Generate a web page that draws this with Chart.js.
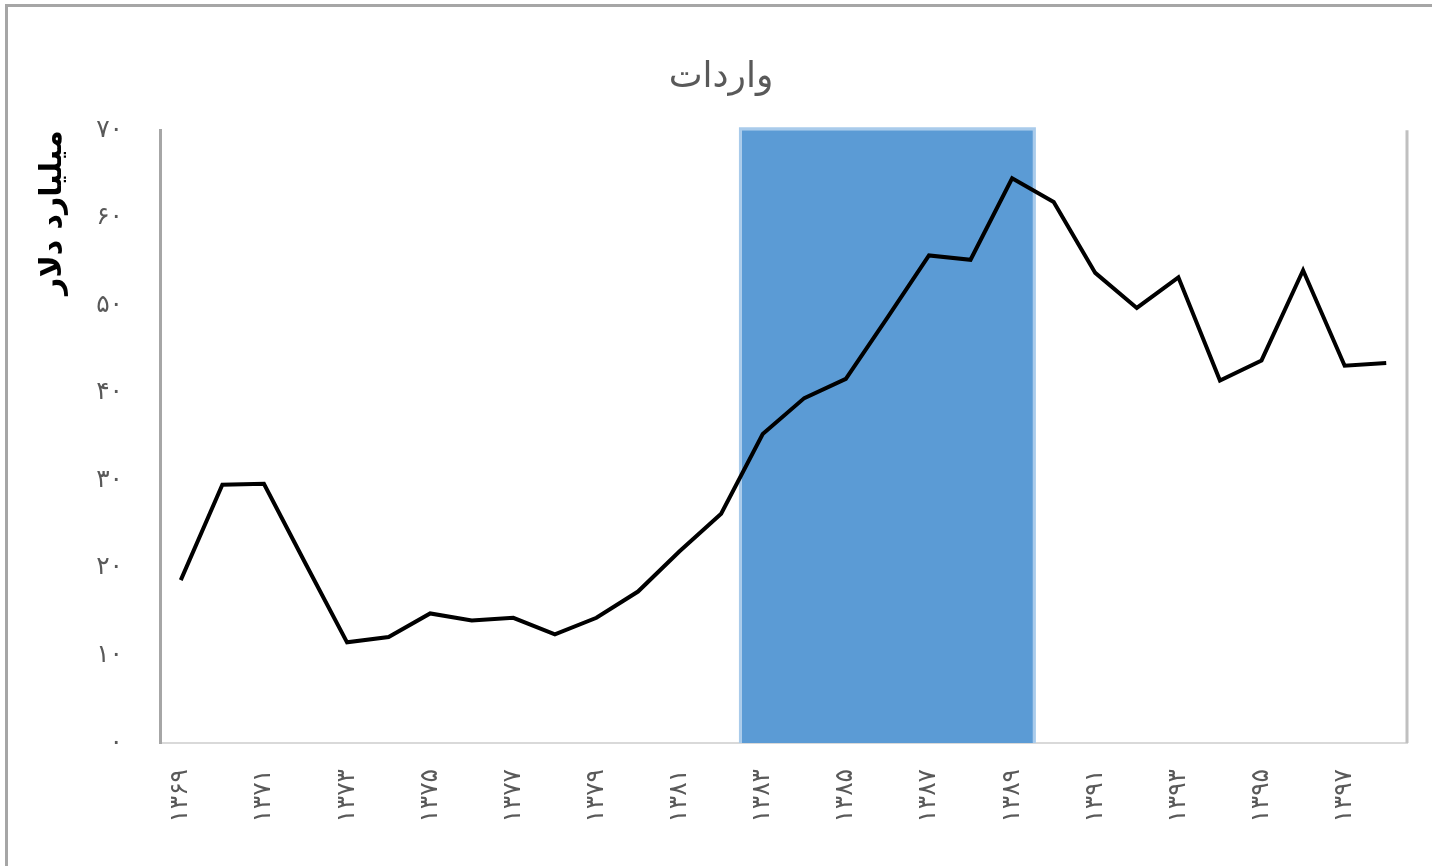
<!DOCTYPE html>
<html><head><meta charset="utf-8">
<script src="https://cdn.jsdelivr.net/npm/chart.js@4.4.0/dist/chart.umd.min.js"></script>
<style>
html,body{margin:0;padding:0;background:#fff;}
#wrap{position:relative;width:1432px;height:866px;overflow:hidden;background:#fff;}
#frame{position:absolute;left:5px;top:4px;width:1600px;height:1000px;border-left:3px solid #a6a6a6;border-top:3px solid #a6a6a6;}
canvas{position:absolute;left:0;top:0;}
</style></head><body>
<div id="wrap"><div id="frame"></div><canvas id="c" width="1432" height="866"></canvas></div>
<script>
const years = ['۱۳۶۹','۱۳۷۰','۱۳۷۱','۱۳۷۲','۱۳۷۳','۱۳۷۴','۱۳۷۵','۱۳۷۶','۱۳۷۷','۱۳۷۸',
               '۱۳۷۹','۱۳۸۰','۱۳۸۱','۱۳۸۲','۱۳۸۳','۱۳۸۴','۱۳۸۵','۱۳۸۶','۱۳۸۷','۱۳۸۸',
               '۱۳۸۹','۱۳۹۰','۱۳۹۱','۱۳۹۲','۱۳۹۳','۱۳۹۴','۱۳۹۵','۱۳۹۶','۱۳۹۷','۱۳۹۸'];
const imports = [18.6, 29.5, 29.6, 20.5, 11.5, 12.1, 14.8, 14.0, 14.3, 12.4,
                 14.3, 17.3, 21.9, 26.2, 35.3, 39.4, 41.6, 48.6, 55.7, 55.2,
                 64.5, 61.8, 53.7, 49.7, 53.2, 41.4, 43.7, 54.0, 43.1, 43.4];
const shadedPeriod = ['۱۳۸۳', '۱۳۸۹'];
const yTickValues = [0, 10, 20, 30, 40, 50, 60, 70];
const chartTitle = 'واردات';
const yAxisTitle = 'میلیارد دلار';

const faDigits = '۰۱۲۳۴۵۶۷۸۹';
const toFa = v => String(v).replace(/\d/g, d => faDigits[d]);

const shadePlugin = {
  id: 'shade',
  beforeDatasetsDraw(chart) {
    const {ctx, scales: {x, y}, chartArea} = chart;
    const i0 = years.indexOf(shadedPeriod[0]);
    const i1 = years.indexOf(shadedPeriod[1]);
    const half = (x.getPixelForValue(1) - x.getPixelForValue(0)) / 2;
    const left = x.getPixelForValue(i0) - half;
    const right = x.getPixelForValue(i1) + half;
    const top = y.getPixelForValue(yTickValues[yTickValues.length - 1]);
    const bottom = y.getPixelForValue(yTickValues[0]);
    ctx.save();
    ctx.fillStyle = '#5b9bd5';
    ctx.fillRect(left, top, right - left, bottom - top);
    ctx.strokeStyle = '#a9cbeb';
    ctx.lineWidth = 3;
    ctx.beginPath();
    ctx.moveTo(left - 1.5, bottom);
    ctx.lineTo(left - 1.5, top - 1.5);
    ctx.lineTo(right + 1.5, top - 1.5);
    ctx.lineTo(right + 1.5, bottom);
    ctx.stroke();
    ctx.strokeStyle = '#c0c0c0';
    ctx.lineWidth = 3;
    ctx.beginPath();
    ctx.moveTo(chartArea.right, chartArea.top);
    ctx.lineTo(chartArea.right, chartArea.bottom);
    ctx.stroke();
    ctx.restore();
  }
};

new Chart(document.getElementById('c'), {
  type: 'line',
  data: {
    labels: years,
    datasets: [{
      data: imports,
      borderColor: '#000000',
      borderWidth: 4,
      pointRadius: 0,
      tension: 0,
      fill: false
    }]
  },
  options: {
    responsive: false,
    animation: false,
    events: [],
    layout: {padding: {left: 35, right: 25, top: 0, bottom: 0}},
    plugins: {
      legend: {display: false},
      tooltip: {enabled: false},
      title: {
        display: true,
        text: chartTitle,
        color: '#595959',
        font: {family: 'DejaVu Sans', size: 36, weight: 'normal', lineHeight: 1.2},
        padding: {top: 56, bottom: 31}
      }
    },
    scales: {
      x: {
        offset: true,
        grid: {display: false, drawTicks: false},
        border: {display: true, color: '#d9d9d9', width: 2},
        ticks: {
          autoSkip: false,
          minRotation: 90,
          maxRotation: 90,
          padding: 26,
          color: '#595959',
          font: {family: 'DejaVu Sans', size: 25},
          callback: (v, i) => (i % 2 === 0 ? years[i] : '')
        },
        afterFit: s => { s.height = 123; s.paddingLeft = 0; s.paddingRight = 0; }
      },
      y: {
        min: 0,
        max: 70,
        grid: {display: false, drawTicks: false},
        border: {display: true, color: '#a6a6a6', width: 3},
        afterBuildTicks: s => { s.ticks = yTickValues.map(v => ({value: v})); },
        ticks: {
          padding: 37,
          color: '#595959',
          font: {family: 'DejaVu Sans', size: 25},
          callback: v => toFa(v)
        },
        title: {
          display: true,
          text: yAxisTitle,
          align: 'end',
          color: '#000000',
          font: {family: 'DejaVu Sans', size: 30, weight: 'bold', lineHeight: 1.2},
          padding: 0
        },
        afterFit: s => { s.width = 125; }
      }
    }
  },
  plugins: [shadePlugin]
});
</script>
</body></html>
